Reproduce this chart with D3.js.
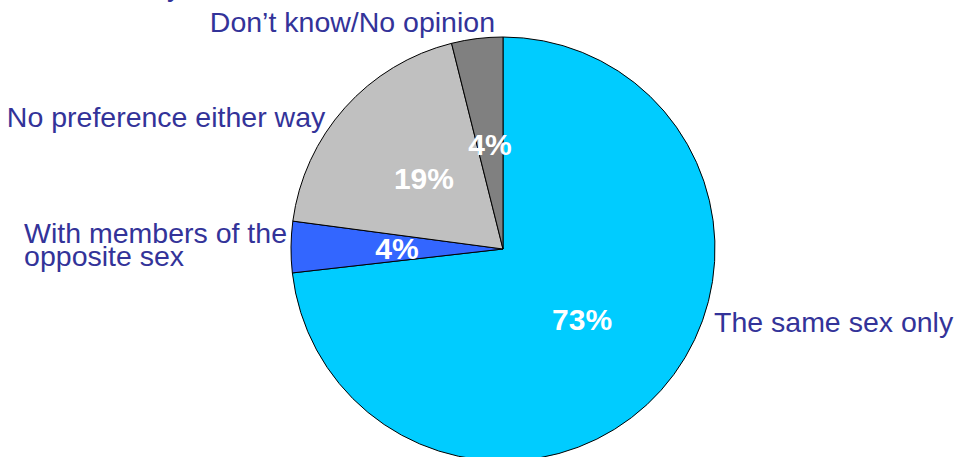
<!DOCTYPE html>
<html><head><meta charset="utf-8">
<script src="https://cdn.jsdelivr.net/npm/d3@7"></script>
<style>html,body{margin:0;padding:0;background:#fff;overflow:hidden}</style>
</head><body>
<svg id="chart" width="954" height="457"></svg>
<script>
const categories = ["The same sex only","With members of the\nopposite sex","No preference either way","Don\u2019t know/No opinion"];
const values = [73.2, 3.9, 19.0, 3.9];
const valueLabels = ["73%","4%","19%","4%"];
const colors = ["#00CCFF","#3366FF","#C0C0C0","#808080"];

const W = 954, H = 457, cx = 503, cy = 249, R = 212;
const svg = d3.select("#chart");
const font = "'Liberation Sans', Arial, Helvetica, sans-serif";

// cut-off title descender at the very top
svg.append("text").attr("x", 181).attr("y", -4).attr("text-anchor","end")
  .attr("font-family", font).attr("font-size", 28).attr("fill","#333399").text("y");

const pie = d3.pie().sort(null).value(d => d)(values);
const arc = d3.arc().innerRadius(0).outerRadius(R);
const labelArc = d3.arc().innerRadius(106).outerRadius(106);

const g = svg.append("g").attr("transform", `translate(${cx},${cy})`);
g.selectAll("path").data(pie).join("path")
  .attr("d", arc).attr("fill", (d,i) => colors[i])
  .attr("stroke", "#000").attr("stroke-width", 1);

g.selectAll("text.v").data(pie).join("text").attr("class","v")
  .attr("transform", d => `translate(${labelArc.centroid(d)})`)
  .attr("text-anchor","middle").attr("dy","0.36em")
  .attr("font-family", font).attr("font-weight","bold").attr("font-size", 30)
  .attr("fill","#fff").text((d,i) => valueLabels[i]);

// outer category labels: offset from centre, anchor
const outer = [
  {dx: 211, dy: 83, anchor: "start"},
  {dx: -216, dy: -6, anchor: "end"},
  {dx: -177, dy: -122, anchor: "end"},
  {dx: -8, dy: -217, anchor: "end"}
];
categories.forEach((c, i) => {
  const o = outer[i];
  const lines = c.split("\n");
  const t = g.append("text").attr("font-family", font).attr("font-size", 28.5)
    .attr("fill", "#333399").attr("text-anchor", "start");
  lines.forEach((ln, k) => {
    t.append("tspan").attr("x", o.dx).attr("y", o.dy + k * 23).text(ln);
  });
  if (o.anchor === "end") {
    const w = t.node().getBBox().width;
    t.selectAll("tspan").attr("x", o.dx - w);
  }
});
</script>
</body></html>
